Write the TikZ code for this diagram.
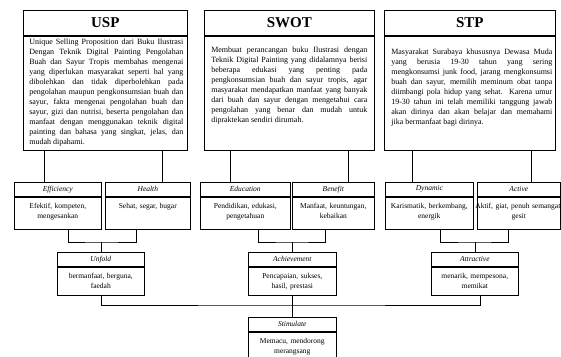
\documentclass[tikz,border=0pt]{standalone}
\usepackage{fontspec}
\setmainfont{Liberation Serif}
\usetikzlibrary{shadows}
\begin{document}
\begin{tikzpicture}[x=1pt, y=-1pt, line width=0.6pt,
    shade/.style={fill=white, drop shadow={shadow xshift=0pt, shadow yshift=-1pt, fill=gray!70, opacity=1}},
    head/.style={draw, anchor=north west, minimum height=25pt, inner sep=0pt, font=\fontsize{15}{15}\selectfont\bfseries},
    frame/.style={draw, shade, anchor=north west, inner sep=0pt},
    para/.style={anchor=north west, inner sep=0pt, align=justify, font={\fontsize{8}{10}\selectfont\tolerance=10000 \hyphenpenalty=10000 }},
    tag/.style={draw, anchor=north west, minimum height=14pt, inner sep=0pt, font=\fontsize{7.5}{9}\selectfont\itshape},
    note/.style={draw, shade, anchor=north west, inner sep=0pt, align=center, text height=12pt, font=\fontsize{7.5}{9.5}\selectfont}]
        \useasboundingbox (0,0) rectangle (561,356);
        % kotak atas
        \node[head, minimum width=164pt] (usp-t) at (23,10) {USP};
        \node[frame, minimum width=164pt, minimum height=114pt] (usp-b) at (usp-t.south west) {};
        \node[para, text width=154pt] (usp-x) at (29,38.5) {Unique Selling Proposition dari Buku Ilustrasi\linebreak
          Dengan Teknik Digital Painting Pengolahan\linebreak
          Buah dan Sayur Tropis membahas mengenai\linebreak
          yang diperlukan masyarakat seperti hal yang\linebreak
          dibolehkan dan tidak diperbolehkan pada\linebreak
          pengolahan maupun pengkonsumsian buah dan\linebreak
          sayur, fakta mengenai pengolahan buah dan\linebreak
          sayur, gizi dan nutrisi, beserta pengolahan dan\linebreak
          manfaat dengan menggunakan teknik digital\linebreak
          painting dan bahasa yang singkat, jelas, dan\linebreak
          mudah dipahami.};
        \node[head, minimum width=170pt] (swot-t) at (204,10) {SWOT};
        \node[frame, minimum width=170pt, minimum height=114pt] (swot-b) at (swot-t.south west) {};
        \node[para, text width=156pt] (swot-x) at (211,46.5) {Membuat perancangan buku Ilustrasi dengan\linebreak
          Teknik Digital Painting yang didalamnya berisi\linebreak
          beberapa edukasi yang penting pada\linebreak
          pengkonsumsian buah dan sayur tropis, agar\linebreak
          masyarakat mendapatkan manfaat yang banyak\linebreak
          dari buah dan sayur dengan mengetahui cara\linebreak
          pengolahan yang benar dan mudah untuk\linebreak
          dipraktekan sendiri dirumah.};
        \node[head, minimum width=171pt] (stp-t) at (384,10) {STP};
        \node[frame, minimum width=171pt, minimum height=114pt] (stp-b) at (stp-t.south west) {};
        \node[para, text width=161pt] (stp-x) at (391,48.5) {Masyarakat Surabaya khususnya Dewasa Muda\linebreak
          yang berusia 19-30 tahun yang sering\linebreak
          mengkonsumsi junk food, jarang mengkonsumsi\linebreak
          buah dan sayur, memilih meminum obat tanpa\linebreak
          diimbangi pola hidup yang sehat. Karena umur\linebreak
          19-30 tahun ini telah memiliki tanggung jawab\linebreak
          akan dirinya dan akan belajar dan memahami\linebreak
          jika bermanfaat bagi dirinya.};
        % kotak kecil baris kedua
        \foreach \n/\x/\w/\t/\b in {eff/14/87/Efficiency/{Efektif, kompeten,\\mengesankan},
            hea/105/85/Health/{Sehat, segar, bugar},
            edu/200/90/Education/{Pendidikan, edukasi,\\pengetahuan},
            ben/292/82/Benefit/{Manfaat, keuntungan,\\kebaikan},
            dyn/385/88/Dynamic/{Karismatik, berkembang,\\energik},
            act/477/83/Active/{\makebox[83pt]{Aktif, giat, penuh semangat,}\\gesit}} {
          \node[tag, minimum width=\w pt] (\n-t) at (\x,182) {\t};
          \node[note, text width=\w pt, text depth=20pt] (\n-b) at (\n-t.south west) {\b};
        }
        % kotak kecil baris ketiga
        \foreach \n/\x/\y/\w/\t/\b in {unf/57/252/87/Unfold/{bermanfaat, berguna,\\faedah},
            ach/248/252/88/Achievement/{Pencapaian, sukses,\\hasil, prestasi},
            att/431/252/87/Attractive/{menarik, mempesona,\\memikat},
            sti/248/317/88/Stimulate/{Memacu, mendorong\\merangsang}} {
          \node[tag, minimum width=\w pt] (\n-t) at (\x,\y) {\t};
          \node[note, text width=\w pt, text depth=16pt] (\n-b) at (\n-t.south west) {\b};
        }
        % garis penghubung
        \draw ([xshift=21pt]usp-b.south west) -- ([xshift=21pt]usp-b.south west |- eff-t.north);
        \draw ([xshift=-25pt]usp-b.south east) -- ([xshift=-25pt]usp-b.south east |- hea-t.north);
        \draw ([xshift=26pt]swot-b.south west) -- ([xshift=26pt]swot-b.south west |- edu-t.north);
        \draw ([xshift=-26pt]swot-b.south east) -- ([xshift=-26pt]swot-b.south east |- ben-t.north);
        \draw ([xshift=28pt]stp-b.south west) -- ([xshift=28pt]stp-b.south west |- dyn-t.north);
        \draw ([xshift=-24pt]stp-b.south east) -- ([xshift=-24pt]stp-b.south east |- act-t.north);
        \draw ([xshift=10pt]eff-b.south) |- ([yshift=10pt]unf-t.north) -| ([xshift=-12pt]hea-b.south);
        \draw ([yshift=10pt]unf-t.north) -- (unf-t.north);
        \draw ([xshift=13pt]edu-b.south) |- ([yshift=10pt]ach-t.north) -| ([xshift=-8pt]ben-b.south);
        \draw ([yshift=10pt]ach-t.north) -- (ach-t.north);
        \draw ([xshift=11pt]dyn-b.south) |- ([yshift=10pt]att-t.north) -| ([xshift=-10.5pt]act-b.south);
        \draw ([yshift=10pt]att-t.north) -- (att-t.north);
        \draw (unf-b.south) |- ([yshift=12pt]sti-t.north) -| ([xshift=5pt]att-b.south);
        \draw (ach-b.south) -- (sti-t.north);
      \end{tikzpicture}
\end{document}
